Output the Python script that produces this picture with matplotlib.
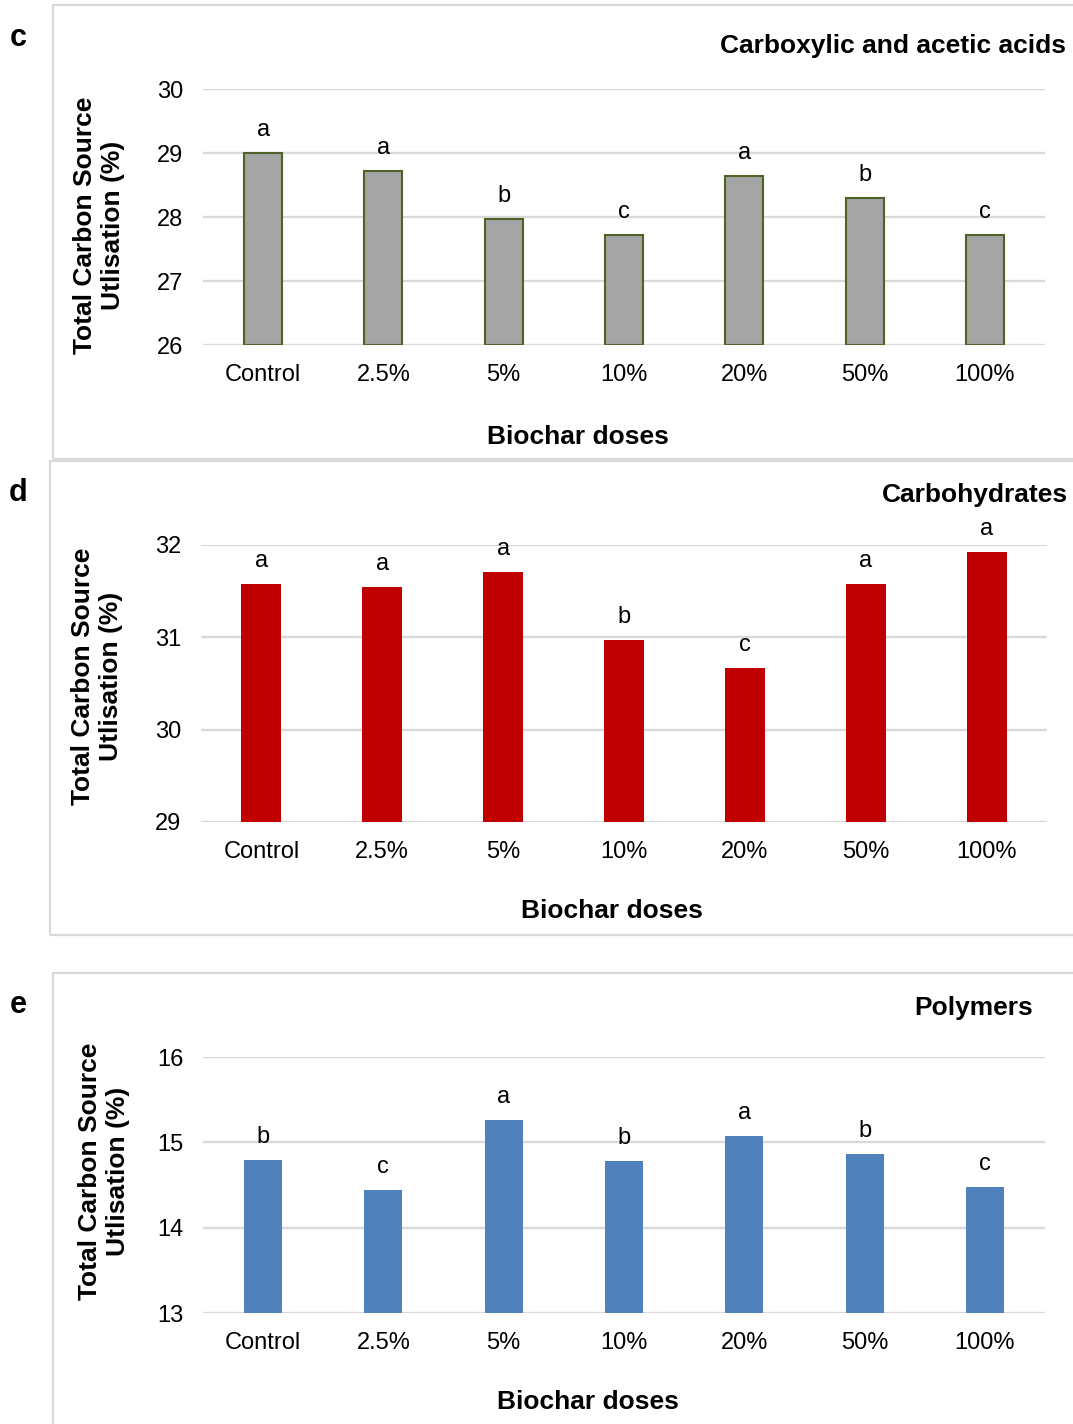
import matplotlib
matplotlib.use("Agg")
import matplotlib.pyplot as plt
from matplotlib.patches import Rectangle

plt.rcParams['font.family'] = ['Liberation Sans', 'DejaVu Sans']

doses = ['Control', '2.5%', '5%', '10%', '20%', '50%', '100%']

carboxylic = [29.00, 28.72, 27.97, 27.72, 28.64, 28.30, 27.72]
carboxylic_letters = ['a', 'a', 'b', 'c', 'a', 'b', 'c']

carbohydrates = [31.58, 31.545, 31.71, 30.97, 30.67, 31.58, 31.92]
carbohydrates_letters = ['a', 'a', 'a', 'b', 'c', 'a', 'a']

polymers = [14.79, 14.44, 15.26, 14.78, 15.07, 14.86, 14.48]
polymers_letters = ['b', 'c', 'a', 'b', 'a', 'b', 'c']

W, H = 1073, 1424
fig = plt.figure(figsize=(W / 100, H / 100), dpi=100)

GRID = '#D9D9D9'
TICK_FS = 17
BOLD_FS = 19
PANEL_FS = 22


def px_axes(x0, x1, ytop, ybot):
    return fig.add_axes([x0 / W, 1 - ybot / H, (x1 - x0) / W, (ybot - ytop) / H])


def px_text(x, y, s, **kw):
    fig.text(x / W, 1 - y / H, s, **kw)


def frame(x0, y0, x1, y1):
    fig.patches.append(Rectangle((x0 / W, 1 - y1 / H), (x1 - x0) / W, (y1 - y0) / H,
                                 transform=fig.transFigure, fill=False,
                                 edgecolor=GRID, linewidth=1.6))


def panel(ax, values, letters, ylim, yticks, color, edge, width, edge_lw):
    x = range(len(doses))
    ax.bar(x, [v - ylim[0] for v in values], bottom=ylim[0], width=width,
           color=color, edgecolor=edge, linewidth=edge_lw, zorder=3)
    for xi, v, s in zip(x, values, letters):
        ax.annotate(s, (xi, v), xytext=(0, 16.5), textcoords='offset points',
                    ha='center', va='center', fontsize=TICK_FS)
    ax.set_xlim(-0.5, len(doses) - 0.5)
    ax.set_ylim(*ylim)
    ax.set_yticks(yticks)
    ax.set_xticks(list(x))
    ax.set_xticklabels(doses)
    ax.tick_params(axis='both', length=0, labelsize=TICK_FS)
    ax.tick_params(axis='y', pad=14)
    ax.tick_params(axis='x', pad=13.5)
    for sp in ax.spines.values():
        sp.set_visible(False)
    ax.grid(True, axis='y', color=GRID, linewidth=1.7, zorder=0)
    ax.set_axisbelow(True)
    ax.patch.set_alpha(0)


ylab = 'Total Carbon Source\nUtlisation (%)'
bold = dict(fontsize=BOLD_FS, fontweight='bold', va='center')

# c - carboxylic and acetic acids
frame(53, 5, 1080, 459)
ax_c = px_axes(203, 1045, 89, 345)
panel(ax_c, carboxylic, carboxylic_letters, (26, 30), [26, 27, 28, 29, 30],
      '#A5A5A5', '#4F6228', 0.316, 1.5)
px_text(1066, 46, 'Carboxylic and acetic acids', ha='right', **bold)
px_text(578, 437, 'Biochar doses', ha='center', **bold)
px_text(99, 225, ylab, ha='center', rotation=90, linespacing=1.2, **bold)
px_text(18, 38, 'c', ha='center', va='center', fontsize=PANEL_FS, fontweight='bold')

# d - carbohydrates
frame(50, 461, 1080, 935)
ax_d = px_axes(201, 1047, 545, 822)
panel(ax_d, carbohydrates, carbohydrates_letters, (29, 32), [29, 30, 31, 32],
      '#C00000', '#C00000', 0.33, 0)
px_text(1068, 495, 'Carbohydrates', ha='right', **bold)
px_text(612, 911, 'Biochar doses', ha='center', **bold)
px_text(97, 676, ylab, ha='center', rotation=90, linespacing=1.2, **bold)
px_text(18, 493, 'd', ha='center', va='center', fontsize=PANEL_FS, fontweight='bold')

# e - polymers
frame(53, 973, 1080, 1440)
ax_e = px_axes(203, 1045, 1057, 1313)
panel(ax_e, polymers, polymers_letters, (13, 16), [13, 14, 15, 16],
      '#4F81BD', '#4F81BD', 0.316, 0)
px_text(974, 1008, 'Polymers', ha='center', **bold)
px_text(588, 1402, 'Biochar doses', ha='center', **bold)
px_text(104, 1171, ylab, ha='center', rotation=90, linespacing=1.2, **bold)
px_text(18, 1005, 'e', ha='center', va='center', fontsize=PANEL_FS, fontweight='bold')

fig.savefig('out.png', dpi=100)
